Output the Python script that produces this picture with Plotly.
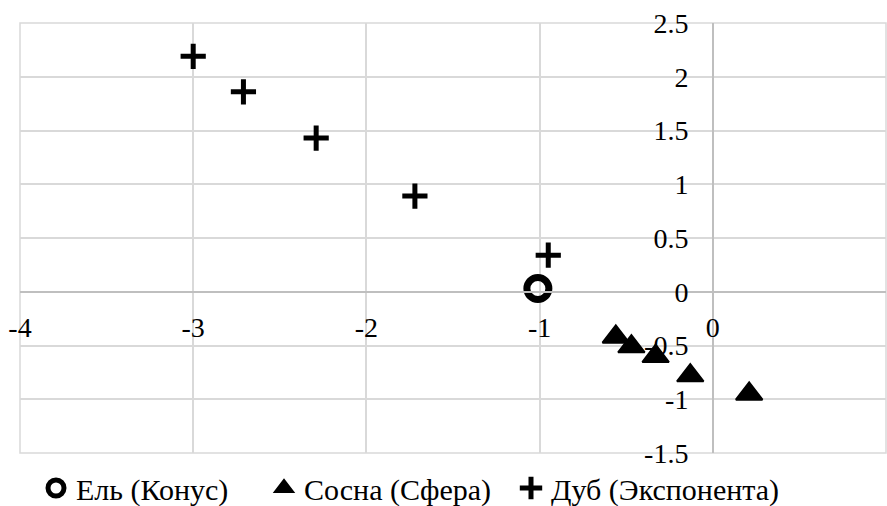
import plotly.graph_objects as go

# Data
el_x = [-1.01]
el_y = [0.03]

sosna_x = [-0.56, -0.47, -0.33, -0.13, 0.21]
sosna_y = [-0.42, -0.51, -0.60, -0.78, -0.95]

dub_x = [-3.00, -2.71, -2.29, -1.72, -0.95]
dub_y = [2.19, 1.86, 1.43, 0.89, 0.34]

names = ["Ель (Конус)", "Сосна (Сфера)", "Дуб (Экспонента)"]

x_ticks = [-4, -3, -2, -1, 0, 1]
y_ticks = [-1.5, -1, -0.5, 0, 0.5, 1, 1.5, 2, 2.5]

FONT = "Liberation Serif, Times New Roman, serif"
GRID = "#d9d9d9"
AXIS = "#bfbfbf"

fig = go.Figure()
fig.add_trace(go.Scatter(
    x=el_x, y=el_y, mode="markers", name=names[0], legend="legend",
    marker=dict(symbol="circle-open", size=22, color="black",
                line=dict(width=7, color="black")),
))
fig.add_trace(go.Scatter(
    x=sosna_x, y=sosna_y, mode="markers", name=names[1], legend="legend2",
    marker=dict(symbol="triangle-up", size=23, color="black",
                line=dict(width=2, color="black")),
))
fig.add_trace(go.Scatter(
    x=dub_x, y=dub_y, mode="markers", name=names[2], legend="legend3",
    marker=dict(symbol="cross-thin-open", size=18, color="black",
                line=dict(width=5, color="black")),
))


def leg(xpx):
    return dict(orientation="h", xref="container", x=xpx / 887, xanchor="left",
                yref="container", y=18 / 506, yanchor="middle",
                font=dict(family=FONT, size=30, color="black"),
                itemwidth=30, bgcolor="rgba(0,0,0,0)")


fig.update_layout(
    width=887, height=506,
    margin=dict(l=20, r=1, t=23, b=53, autoexpand=False),
    paper_bgcolor="white", plot_bgcolor="white",
    font=dict(family=FONT, size=28, color="black"),
    showlegend=True,
    legend=leg(36), legend2=leg(264), legend3=leg(511),
    xaxis=dict(range=[-4, 1], tickvals=x_ticks, ticktext=[str(v) for v in x_ticks],
               showgrid=True, gridcolor=GRID, gridwidth=1.5,
               zeroline=False, showline=True, linecolor=AXIS, linewidth=1.5,
               anchor="free", position=0.375, ticks="",
               ticklabelstandoff=11,
               tickfont=dict(family=FONT, size=28, color="black")),
    yaxis=dict(range=[-1.5, 2.5], tickvals=y_ticks,
               ticktext=[("%g" % v) for v in y_ticks],
               showgrid=True, gridcolor=GRID, gridwidth=1.5,
               zeroline=False, showline=True, linecolor=AXIS, linewidth=1.5,
               anchor="free", position=0.8, ticks="",
               ticklabelstandoff=18,
               tickfont=dict(family=FONT, size=28, color="black")),
    shapes=[dict(type="rect", xref="paper", yref="paper", x0=0, x1=1, y0=0, y1=1,
                 line=dict(color=GRID, width=1.5), layer="below")],
)

fig.write_html("out.html")
